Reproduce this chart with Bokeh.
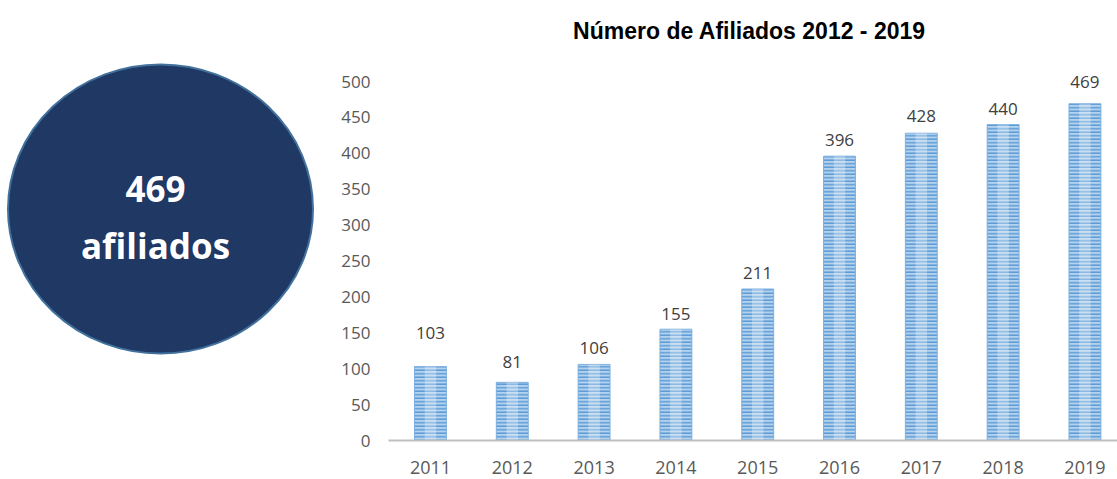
from bokeh.plotting import figure
from bokeh.layouts import row
from bokeh.models import Range1d, FixedTicker, ColumnDataSource
from bokeh.core.properties import value
from bokeh.embed import file_html
from bokeh.resources import INLINE

# ---- data ----
years = ["2011", "2012", "2013", "2014", "2015", "2016", "2017", "2018", "2019"]
afiliados = [103, 81, 106, 155, 211, 396, 428, 440, 469]
y_ticks = [0, 50, 100, 150, 200, 250, 300, 350, 400, 450, 500]
title_text = "Número de Afiliados 2012 - 2019"
badge_unit = "afiliados"

# ---- styles ----
label_offsets = [34, 20.5, 16, 15, 16.5, 16.5, 17, 16, 21.5]  # px above bar top (label centre)
FONT = "Open Sans"
BOTTOM = 39
FRAME_H = 440            # frame spans page y 0..440
Y_END = 500 * FRAME_H / 359.0   # 500 sits at page y 81

# ---- left badge ----
left = figure(width=320, height=479, x_range=Range1d(0, 320), y_range=Range1d(0, FRAME_H),
              output_backend="svg", toolbar_location=None,
              min_border_left=0, min_border_right=0, min_border_top=0, min_border_bottom=BOTTOM)
left.axis.visible = False
left.grid.visible = False
left.outline_line_color = None
left.ellipse(x=160, y=231.5, width=305, height=289, fill_color="#203864",
             line_color="#41719C", line_width=2)
left.text(x=[155, 155], y=[252, 195], text=[str(afiliados[-1]), badge_unit],
          text_color="white", text_font=value(FONT), text_font_style="bold",
          text_font_size="35px", text_align="center", text_baseline="alphabetic")

# ---- bar chart ----
xs = list(range(len(years)))
src = ColumnDataSource(dict(x=xs, top=afiliados, lab=[str(v) for v in afiliados],
                            dy=[-o for o in label_offsets]))

p = figure(width=797, height=479, x_range=Range1d(-0.513, 8.398), y_range=Range1d(0, Y_END),
           output_backend="svg", toolbar_location=None,
           min_border_left=68, min_border_right=0, min_border_bottom=BOTTOM, min_border_top=0)
p.outline_line_color = None
p.grid.visible = False

p.vbar(x="x", top="top", width=0.39, source=src, fill_color="#B4D2EE",
       line_color="#7EB0E0", line_width=1,
       hatch_pattern="-", hatch_color="#5B9BD5", hatch_scale=3.5, hatch_weight=1.5)
p.vbar(x="x", top="top", width=0.14, source=src, fill_color="white", fill_alpha=0.3,
       line_color=None)

p.text(x="x", y="top", text="lab", y_offset="dy", source=src, text_color="#404040",
       text_font=value(FONT), text_font_size="17px", text_align="center",
       text_baseline="middle")

# title (drawn inside the tall frame, above the data)
p.text(x=[3.9], y=[(440 - 30) * Y_END / FRAME_H], text=[title_text],
       text_font=value("Liberation Sans"), text_font_style="bold", text_font_size="23px",
       text_color="black", text_align="center", text_baseline="alphabetic")

p.xaxis.ticker = FixedTicker(ticks=xs)
p.xaxis.major_label_overrides = {i: y for i, y in enumerate(years)}
p.xaxis.axis_line_color = "#BFBFBF"
p.xaxis.axis_line_width = 2
p.xaxis.major_tick_line_color = None
p.xaxis.minor_tick_line_color = None
p.xaxis.major_tick_out = 0
p.xaxis.major_tick_in = 0
p.xaxis.major_label_standoff = 20
p.xaxis.major_label_text_font = FONT
p.xaxis.major_label_text_font_size = "18px"
p.xaxis.major_label_text_color = "#595959"

p.yaxis.ticker = FixedTicker(ticks=y_ticks)
p.yaxis.axis_line_color = None
p.yaxis.major_tick_line_color = None
p.yaxis.minor_tick_line_color = None
p.yaxis.major_tick_out = 0
p.yaxis.major_tick_in = 0
p.yaxis.major_label_standoff = 18
p.yaxis.major_label_text_font = FONT
p.yaxis.major_label_text_font_size = "17px"
p.yaxis.major_label_text_color = "#595959"

layout = row(left, p)
open("out.html", "w").write(file_html(layout, INLINE))
